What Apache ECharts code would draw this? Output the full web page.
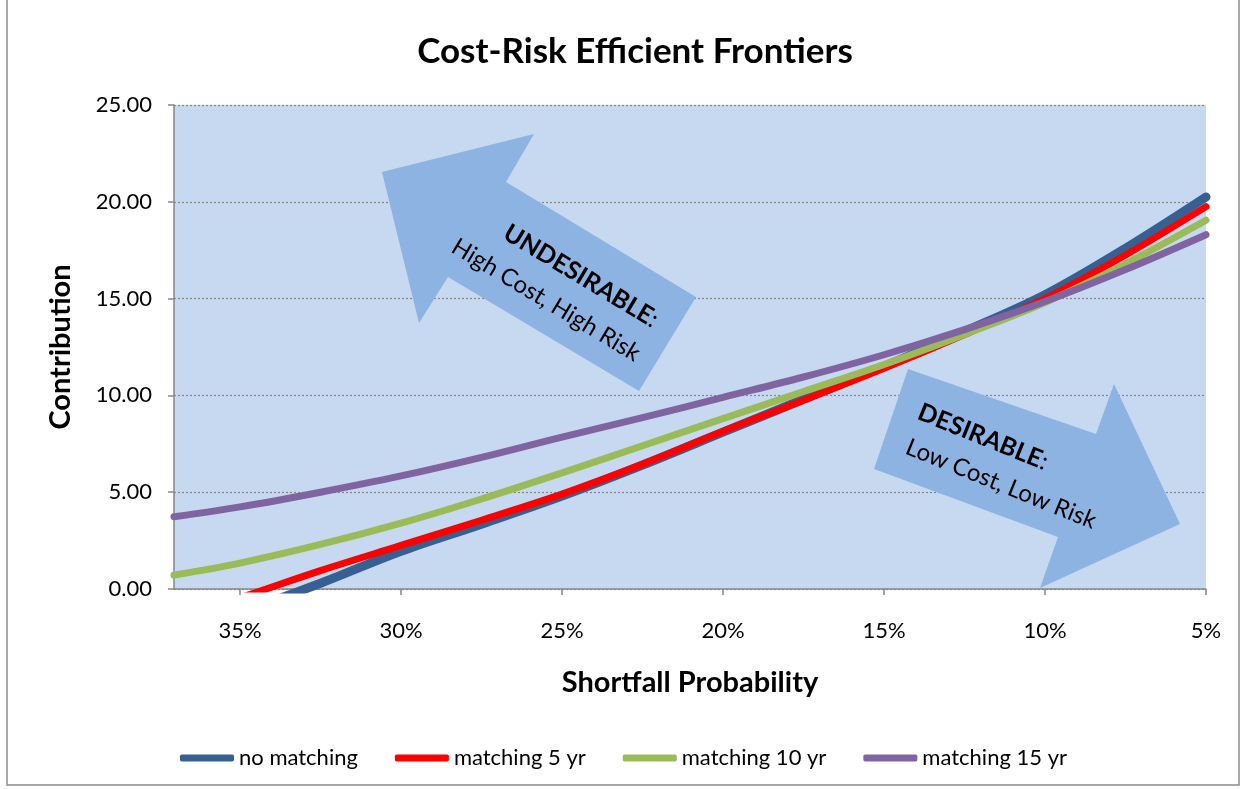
<!DOCTYPE html>
<html>
<head>
<meta charset="utf-8">
<script src="https://cdn.jsdelivr.net/npm/echarts@6/dist/echarts.min.js"></script>
<style>
  html, body { margin: 0; padding: 0; background: #fff; }
  #chart { width: 1246px; height: 789px; }
</style>
</head>
<body>
<div id="chart"></div>
<script>
// shortfall probability (%) -> contribution
const noMatching = [
  [37.05, -2.2], [35, -1.2], [32.5, 0.3], [30, 1.95], [27.5, 3.35], [25, 4.8],
  [22.5, 6.4], [20, 8.1], [17.5, 9.8], [15, 11.5], [12.5, 13.3], [10, 15.2], [7.5, 17.6], [5, 20.25]
]
const matching5 = [
  [37.05, -1.5], [35, -0.45], [32.5, 0.95], [30, 2.25], [27.5, 3.55], [25, 4.9],
  [22.5, 6.45], [20, 8.15], [17.5, 9.75], [15, 11.4], [12.5, 13.15], [10, 15.0], [7.5, 17.25], [5, 19.75]
]
const matching10 = [
  [37.05, 0.72], [35, 1.34], [32.5, 2.3], [30, 3.4], [27.5, 4.65], [25, 6.0],
  [22.5, 7.4], [20, 8.8], [17.5, 10.2], [15, 11.6], [12.5, 13.15], [10, 14.8], [7.5, 16.8], [5, 19.05]
]
const matching15 = [
  [37.05, 3.73], [35, 4.24], [32.5, 5.0], [30, 5.84], [27.5, 6.8], [25, 7.85],
  [22.5, 8.85], [20, 9.9], [17.5, 10.95], [15, 12.1], [12.5, 13.4], [10, 14.85], [7.5, 16.5], [5, 18.3]
]
const seriesNames = ['no matching', 'matching 5 yr', 'matching 10 yr', 'matching 15 yr']
const seriesColors = ['#376092', '#ff0000', '#9bbb59', '#8064a2']

const font = 'Lato, "Open Sans", sans-serif'
const arrowColor = '#8db3e2'

const chart = echarts.init(document.getElementById('chart'))

const makeLine = (name, data, color, width) => ({
  name,
  type: 'line',
  data,
  smooth: 0.35,
  showSymbol: false,
  symbol: 'none',
  clip: true,
  lineStyle: { color, width, cap: 'round', join: 'round' },
  itemStyle: { color }
})

const arrowText = (text, x, y, deg, rich) => ({
  type: 'text',
  z: 4,
  x, y,
  rotation: -deg * Math.PI / 180,
  style: Object.assign({
    text,
    align: 'center',
    verticalAlign: 'middle',
    fontFamily: font,
    fontSize: 24,
    fill: '#000'
  }, rich ? { rich } : {})
})

const boldRich = {
  b: { fontFamily: font, fontSize: 25, fontWeight: 'bold', fill: '#000' },
  r: { fontFamily: font, fontSize: 25, fill: '#000' }
}

chart.setOption({
  animation: false,
  textStyle: { fontFamily: font },
  title: {
    text: 'Cost-Risk Efficient Frontiers',
    left: 630,
    textAlign: 'center',
    top: 29,
    textStyle: { fontFamily: font, fontSize: 35, fontWeight: 'bold', color: '#000' }
  },
  grid: {
    left: 174,
    right: 40,
    top: 105,
    bottom: 200,
    show: true,
    backgroundColor: '#c6d9f1',
    borderWidth: 0
  },
  legend: {
    left: 175,
    top: 742,
    icon: 'roundRect',
    itemWidth: 54,
    itemHeight: 7,
    itemGap: 37,
    textStyle: { fontFamily: font, fontSize: 22, color: '#000' },
    data: seriesNames
  },
  xAxis: {
    type: 'value',
    inverse: true,
    min: 5,
    max: 37.05,
    interval: 5,
    name: 'Shortfall Probability',
    nameLocation: 'middle',
    nameGap: 79,
    nameTextStyle: { fontFamily: font, fontSize: 29, fontWeight: 'bold', color: '#000' },
    axisLine: { lineStyle: { color: '#868686', width: 1.5 } },
    axisTick: { show: true, length: 6, lineStyle: { color: '#868686', width: 1.5 } },
    axisLabel: {
      showMaxLabel: false,
      margin: 31,
      fontSize: 22,
      color: '#000',
      formatter: v => v + '%'
    },
    splitLine: { show: false }
  },
  yAxis: {
    type: 'value',
    min: 0,
    max: 25,
    interval: 5,
    name: 'Contribution',
    nameLocation: 'middle',
    nameGap: 99,
    nameTextStyle: { fontFamily: font, fontSize: 29, fontWeight: 'bold', color: '#000' },
    axisLine: { show: true, lineStyle: { color: '#868686', width: 1.5 } },
    axisTick: { show: true, length: 6, lineStyle: { color: '#868686', width: 1.5 } },
    axisLabel: {
      margin: 22,
      fontSize: 22,
      color: '#000',
      formatter: v => v.toFixed(2)
    },
    splitLine: { lineStyle: { color: '#868686', type: [2, 2], width: 1.2 } }
  },
  graphic: [
    {
      type: 'rect',
      z: -1,
      shape: { x: 7, y: -5, width: 1232, height: 790 },
      style: { fill: null, stroke: '#8c8c8c', lineWidth: 1.5 }
    },
    {
      type: 'polygon',
      z: 3,
      shape: { points: [[382, 172], [534, 134], [506, 182], [696, 297], [639, 391], [448, 277], [419, 323]] },
      style: { fill: arrowColor }
    },
    {
      type: 'polygon',
      z: 3,
      shape: { points: [[908, 369], [1096, 434], [1114, 384], [1180, 524], [1040, 588], [1058, 537], [874, 469]] },
      style: { fill: arrowColor }
    },
    arrowText('{b|UNDESIRABLE}{r|:}', 581, 276, 31, boldRich),
    arrowText('High Cost, High Risk', 546, 300, 31),
    arrowText('{b|DESIRABLE}{r|:}', 983, 437, 22, boldRich),
    arrowText('Low Cost, Low Risk', 1001, 484, 22)
  ],
  series: [
    makeLine(seriesNames[0], noMatching, seriesColors[0], 9),
    makeLine(seriesNames[1], matching5, seriesColors[1], 7),
    makeLine(seriesNames[2], matching10, seriesColors[2], 7),
    makeLine(seriesNames[3], matching15, seriesColors[3], 7)
  ]
})
</script>
</body>
</html>
